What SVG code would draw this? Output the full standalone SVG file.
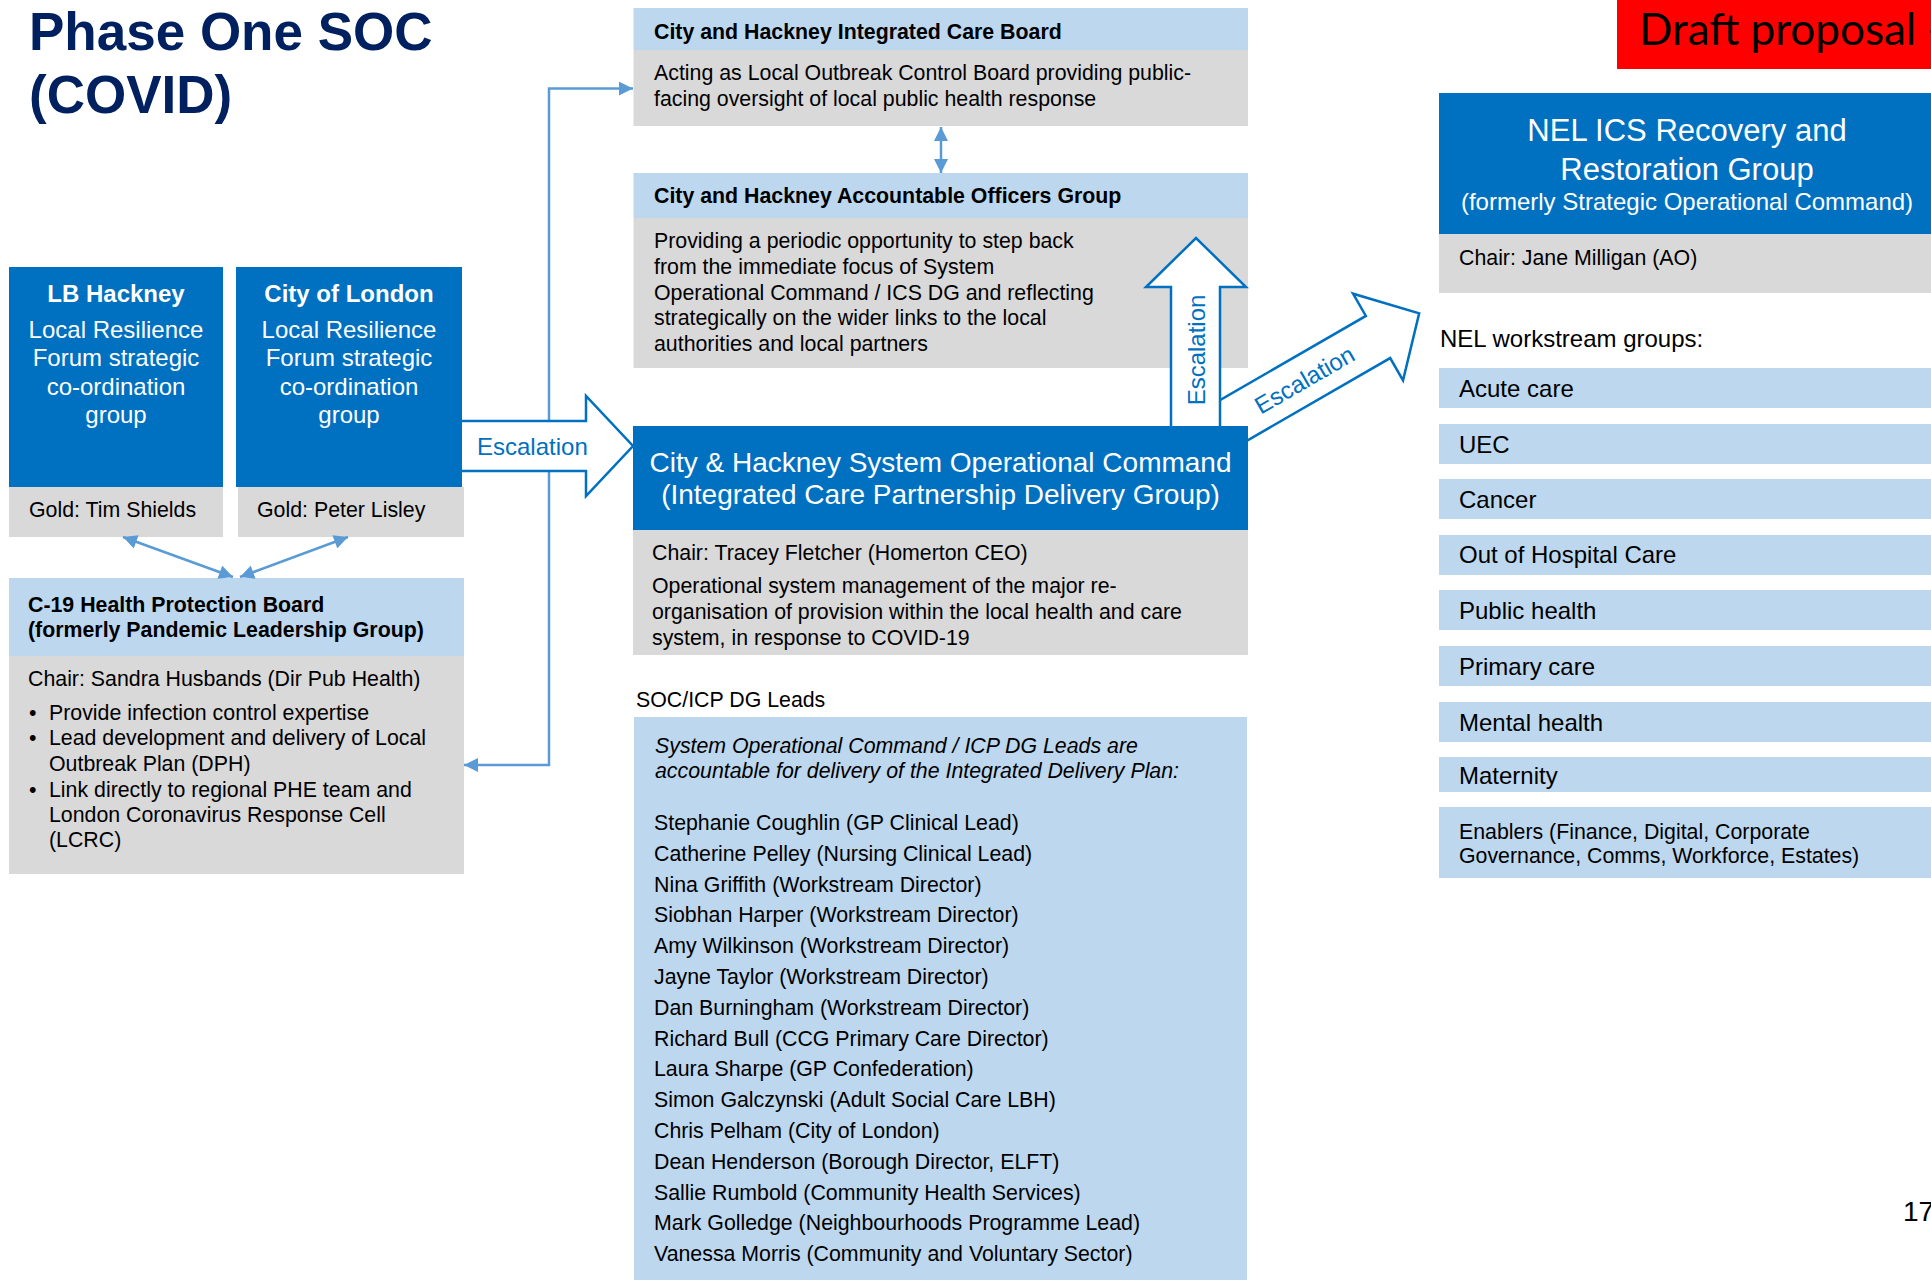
<svg xmlns="http://www.w3.org/2000/svg" width="1931" height="1280" viewBox="0 0 1931 1280">
<style>
text{font-family:"Liberation Sans",Arial,Helvetica,sans-serif;fill:#000}
.b{font-weight:bold}
.s{font-size:21.33px}
.m{font-size:24px}
.w{fill:#fff}
.esc{fill:#0070C0;font-size:24px}
.blue{fill:#0070C0}
.lb{fill:#BDD7EE}
.gr{fill:#D9D9D9}
.con{fill:none;stroke:#5B9BD5;stroke-width:2.5}
.blk{fill:#fff;stroke:#0070C0;stroke-width:2.5;stroke-linejoin:miter}
</style>
<defs>
<marker id="ah" viewBox="0 0 10 10" refX="10" refY="5" markerWidth="15" markerHeight="14" markerUnits="userSpaceOnUse" orient="auto-start-reverse">
<path d="M0,0 L10,5 L0,10 z" fill="#5B9BD5"/>
</marker>
</defs>
<rect width="1931" height="1280" fill="#fff"/>

<g id="title">
<text x="29" y="50" class="b" font-size="53" style="fill:#002060">Phase One SOC</text>
<text x="29" y="113" class="b" font-size="53" style="fill:#002060">(COVID)</text>
</g>

<g id="draft">
<rect x="1617" y="0" width="314" height="69" fill="#FF0000"/>
<text x="1639" y="45" font-size="44" style="font-family:Lato,'Liberation Sans',sans-serif">Draft proposal -</text>
</g>

<g id="icb">
<rect x="633.5" y="8" width="614.5" height="42" class="lb"/>
<rect x="633.5" y="50" width="614.5" height="76" class="gr"/>
<text x="654" y="39" class="b s">City and Hackney Integrated Care Board</text>
<text x="654" y="80" class="s">Acting as Local Outbreak Control Board providing public-</text>
<text x="654" y="106" class="s">facing oversight of local public health response</text>
</g>

<g id="aog">
<rect x="633.5" y="173" width="614.5" height="45" class="lb"/>
<rect x="633.5" y="218" width="614.5" height="150" class="gr"/>
<text x="654" y="203" class="b s">City and Hackney Accountable Officers Group</text>
<text class="s"><tspan x="654" y="248">Providing a periodic opportunity to step back</tspan><tspan x="654" y="274">from the immediate focus of System</tspan><tspan x="654" y="300">Operational Command / ICS DG and reflecting</tspan><tspan x="654" y="325">strategically on the wider links to the local</tspan><tspan x="654" y="351">authorities and local partners</tspan></text>
</g>

<g id="lbh">
<rect x="9" y="267" width="214" height="220" class="blue"/>
<rect x="9" y="487" width="214" height="50" class="gr"/>
<text x="116" y="302" text-anchor="middle" class="b m w">LB Hackney</text>
<text text-anchor="middle" class="m w"><tspan x="116" y="337.5">Local Resilience</tspan><tspan x="116" y="366">Forum strategic</tspan><tspan x="116" y="394.5">co-ordination</tspan><tspan x="116" y="423">group</tspan></text>
<text x="29" y="517" class="s">Gold: Tim Shields</text>
</g>

<g id="col">
<rect x="236" y="267" width="226" height="220" class="blue"/>
<rect x="238" y="487" width="226" height="50" class="gr"/>
<text x="349" y="302" text-anchor="middle" class="b m w">City of London</text>
<text text-anchor="middle" class="m w"><tspan x="349" y="337.5">Local Resilience</tspan><tspan x="349" y="366">Forum strategic</tspan><tspan x="349" y="394.5">co-ordination</tspan><tspan x="349" y="423">group</tspan></text>
<text x="257" y="517" class="s">Gold: Peter Lisley</text>
</g>

<g id="c19">
<rect x="9" y="578" width="455" height="78" class="lb"/>
<rect x="9" y="656" width="455" height="218" class="gr"/>
<text x="28" y="612" class="b s">C-19 Health Protection Board</text>
<text x="28" y="637" class="b s">(formerly Pandemic Leadership Group)</text>
<text x="28" y="686" class="s">Chair: Sandra Husbands (Dir Pub Health)</text>
<text class="s"><tspan x="29" y="720">•</tspan><tspan x="29" y="745">•</tspan><tspan x="29" y="797">•</tspan></text>
<text class="s"><tspan x="49" y="720">Provide infection control expertise</tspan><tspan x="49" y="745">Lead development and delivery of Local</tspan><tspan x="49" y="771">Outbreak Plan (DPH)</tspan><tspan x="49" y="797">Link directly to regional PHE team and</tspan><tspan x="49" y="822">London Coronavirus Response Cell</tspan><tspan x="49" y="847">(LCRC)</tspan></text>
</g>

<g id="connectors">
<path class="con" d="M633,88.6 H549 V765 H464" marker-start="url(#ah)" marker-end="url(#ah)"/>
<path class="con" d="M941,127 V173" marker-start="url(#ah)" marker-end="url(#ah)"/>
<path class="con" d="M123,537 L233,577" marker-start="url(#ah)" marker-end="url(#ah)"/>
<path class="con" d="M348,537 L240,577" marker-start="url(#ah)" marker-end="url(#ah)"/>
<g id="esc-right">
<path class="blk" d="M462,421 H586 V396 L633,446 L586,496 V471 H462"/>
<text x="477" y="455" class="esc">Escalation</text>
</g>
<g id="esc-diag" transform="translate(1236,419) rotate(-30)">
<polygon class="blk" points="-60,-24.3 164,-24.3 164,-50 211.5,0 164,50 164,24.3 -60,24.3"/>
<text x="79" y="8.6" text-anchor="middle" class="esc">Escalation</text>
</g>
<g id="esc-up">
<path class="blk" d="M1171,430 V287 H1146 L1196,238 L1246,287 H1220 V430"/>
<text transform="translate(1205,350) rotate(-90)" text-anchor="middle" class="esc">Escalation</text>
</g>
</g>

<g id="soc">
<rect x="633" y="426" width="615" height="104" class="blue"/>
<rect x="633" y="530" width="615" height="125" class="gr"/>
<text text-anchor="middle" font-size="28" class="w"><tspan x="940.5" y="472">City &amp; Hackney System Operational Command</tspan><tspan x="940.5" y="504">(Integrated Care Partnership Delivery Group)</tspan></text>
<text x="652" y="560" class="s">Chair: Tracey Fletcher (Homerton CEO)</text>
<text class="s"><tspan x="652" y="593">Operational system management of the major re-</tspan><tspan x="652" y="619">organisation of provision within the local health and care</tspan><tspan x="652" y="645">system, in response to COVID-19</tspan></text>
</g>

<g id="leads">
<text x="636" y="707" class="s">SOC/ICP DG Leads</text>
<rect x="634" y="717" width="613" height="563" class="lb"/>
<text class="s" font-style="italic"><tspan x="655" y="753">System Operational Command / ICP DG Leads are</tspan><tspan x="655" y="778">accountable for delivery of the Integrated Delivery Plan:</tspan></text>
<text class="s">
<tspan x="654" y="830">Stephanie Coughlin (GP Clinical Lead)</tspan>
<tspan x="654" y="860.8">Catherine Pelley (Nursing Clinical Lead)</tspan>
<tspan x="654" y="891.6">Nina Griffith (Workstream Director)</tspan>
<tspan x="654" y="922.4">Siobhan Harper (Workstream Director)</tspan>
<tspan x="654" y="953.2">Amy Wilkinson (Workstream Director)</tspan>
<tspan x="654" y="984">Jayne Taylor (Workstream Director)</tspan>
<tspan x="654" y="1014.8">Dan Burningham (Workstream Director)</tspan>
<tspan x="654" y="1045.6">Richard Bull (CCG Primary Care Director)</tspan>
<tspan x="654" y="1076.4">Laura Sharpe (GP Confederation)</tspan>
<tspan x="654" y="1107.2">Simon Galczynski (Adult Social Care LBH)</tspan>
<tspan x="654" y="1138">Chris Pelham (City of London)</tspan>
<tspan x="654" y="1168.8">Dean Henderson (Borough Director, ELFT)</tspan>
<tspan x="654" y="1199.6">Sallie Rumbold (Community Health Services)</tspan>
<tspan x="654" y="1230.4">Mark Golledge (Neighbourhoods Programme Lead)</tspan>
<tspan x="654" y="1261.2">Vanessa Morris (Community and Voluntary Sector)</tspan>
</text>
</g>

<g id="nel">
<rect x="1439" y="93" width="492" height="141" class="blue"/>
<rect x="1439" y="234" width="492" height="59" class="gr"/>
<text text-anchor="middle" font-size="31" class="w"><tspan x="1687" y="141">NEL ICS Recovery and</tspan><tspan x="1687" y="180">Restoration Group</tspan></text>
<text x="1687" y="210" text-anchor="middle" class="m w">(formerly Strategic Operational Command)</text>
<text x="1459" y="265" class="s">Chair: Jane Milligan (AO)</text>
</g>

<g id="workstreams">
<text x="1440" y="347" class="m">NEL workstream groups:</text>
<g id="ws-acute"><rect x="1439" y="368" width="492" height="40" class="lb"/><text x="1459" y="397" class="m">Acute care</text></g>
<g id="ws-uec"><rect x="1439" y="424" width="492" height="40" class="lb"/><text x="1459" y="452.7" class="m">UEC</text></g>
<g id="ws-cancer"><rect x="1439" y="479" width="492" height="40" class="lb"/><text x="1459" y="507.7" class="m">Cancer</text></g>
<g id="ws-ooh"><rect x="1439" y="535" width="492" height="40" class="lb"/><text x="1459" y="563.3" class="m">Out of Hospital Care</text></g>
<g id="ws-ph"><rect x="1439" y="590" width="492" height="40" class="lb"/><text x="1459" y="619.3" class="m">Public health</text></g>
<g id="ws-pc"><rect x="1439" y="646" width="492" height="40" class="lb"/><text x="1459" y="675" class="m">Primary care</text></g>
<g id="ws-mh"><rect x="1439" y="702" width="492" height="40" class="lb"/><text x="1459" y="730.7" class="m">Mental health</text></g>
<g id="ws-mat"><rect x="1439" y="757" width="492" height="35" class="lb"/><text x="1459" y="784" class="m">Maternity</text></g>
<g id="ws-en"><rect x="1439" y="807" width="492" height="71" class="lb"/><text class="s"><tspan x="1459" y="839">Enablers (Finance, Digital, Corporate</tspan><tspan x="1459" y="863.3">Governance, Comms, Workforce, Estates)</tspan></text></g>
</g>

<g id="page">
<text x="1903" y="1221" font-size="28">17</text>
</g>
</svg>
